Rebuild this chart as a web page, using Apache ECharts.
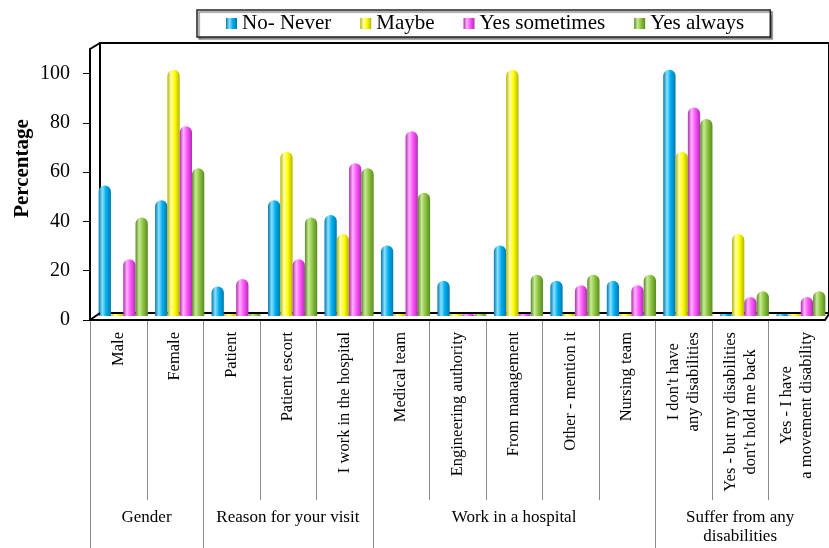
<!DOCTYPE html>
<html>
<head>
<meta charset="utf-8">
<script src="https://cdn.jsdelivr.net/npm/echarts@6/dist/echarts.min.js"></script>
<style>
  html, body { margin: 0; padding: 0; background: #fff; }
  #chart { width: 829px; height: 548px; }
</style>
</head>
<body>
<div id="chart"></div>
<script>
// Survey answers by respondent profile (percent of each answer).
const categories = [
  'Male', 'Female',
  'Patient', 'Patient escort', 'I work in the hospital',
  'Medical team', 'Engineering authority', 'From management', 'Other - mention it', 'Nursing team',
  "I don't have\nany disabilities", "Yes - but my disabilities\ndon't hold me back", 'Yes - I have\na movement disability'
];
const groupNames = ['Gender', 'Reason for your visit', 'Work in a hospital', 'Suffer from any\ndisabilities'];
const groupSizes = [2, 3, 5, 3];
const seriesNames = ['No- Never', 'Maybe', 'Yes sometimes', 'Yes always'];
const noNever      = [53, 47, 12, 47, 41, 28.6, 14.3, 28.6, 14.3, 14.3, 100, 0, 0];
const maybe        = [0, 100, 0, 66.7, 33.3, 0, 0, 100, 0, 0, 66.7, 33.3, 0];
const yesSometimes = [23, 77, 15, 23, 62, 75, 0, 0, 12.5, 12.5, 84.6, 7.7, 7.7];
const yesAlways    = [40, 60, 0, 40, 60, 50, 0, 16.7, 16.7, 16.7, 80, 10, 10];
const yTicks = [0, 20, 40, 60, 80, 100];

const serif = '"Liberation Serif", "Times New Roman", serif';

// horizontal shading that gives each bar a cylinder look
function cylinder(dark, light, base) {
  return new echarts.graphic.LinearGradient(0, 0, 1, 0, [
    { offset: 0, color: dark },
    { offset: 0.3, color: light },
    { offset: 0.6, color: base },
    { offset: 1, color: dark }
  ]);
}
const fills = [
  cylinder('#0079AD', '#8BE0FF', '#00AEEF'),
  cylinder('#B5B500', '#FFFFB0', '#FFFF00'),
  cylinder('#B02DB0', '#FFB3FF', '#FF55FF'),
  cylinder('#5A8A25', '#C8EA98', '#8DC63F')
];
const values = [noNever, maybe, yesSometimes, yesAlways];

const chart = echarts.init(document.getElementById('chart'), null, { renderer: 'canvas' });

chart.setOption({
  animation: false,
  backgroundColor: '#fff',
  legend: {
    left: 197, top: 10,
    padding: [3, 26, 3, 29],
    itemGap: 29,
    itemWidth: 11, itemHeight: 11,
    icon: 'rect',
    borderColor: '#222', borderWidth: 1.5,
    backgroundColor: '#fff',
    shadowColor: 'rgba(0,0,0,0.45)', shadowOffsetX: 2, shadowOffsetY: 2, shadowBlur: 1,
    textStyle: { fontFamily: serif, fontSize: 21, color: '#000' },
    data: seriesNames
  },
  grid: [
    // front axes
    { left: 90, right: 4, top: 49, bottom: 228 },
    // bars, set back slightly in depth
    { left: 95, right: 0, top: 45, bottom: 232 },
    // back wall
    { left: 100, right: -2, top: 43, bottom: 235, show: true, borderColor: '#000', borderWidth: 2, backgroundColor: 'transparent', z: 0 }
  ],
  xAxis: [
    {
      type: 'category', gridIndex: 0, data: categories,
      axisLine: { lineStyle: { color: '#000', width: 2 } },
      axisTick: { show: false },
      axisLabel: {
        interval: 0, rotate: 90, margin: 12, color: '#000',
        fontFamily: serif, fontSize: 16.5, lineHeight: 20,
        formatter: v => v.split('\n').map(s => '{c|' + s + '}').join('\n'),
        rich: { c: { align: 'center', fontFamily: serif, fontSize: 16.5, lineHeight: 20, color: '#000' } }
      }
    },
    { type: 'category', gridIndex: 1, data: categories, show: false },
    { type: 'value', gridIndex: 2, min: 0, max: 1, show: false }
  ],
  yAxis: [
    {
      type: 'value', gridIndex: 0, min: 0, max: 110, interval: 20,
      name: 'Percentage', nameLocation: 'middle', nameGap: 57, nameMoveOverlap: false,
      nameTextStyle: { fontFamily: serif, fontSize: 21, fontWeight: 'bold', color: '#000', padding: [0, 0, 0, 32] },
      axisLine: { show: true, lineStyle: { color: '#000', width: 2 } },
      axisTick: { show: true, inside: false, length: 7, customValues: yTicks, lineStyle: { color: '#000' } },
      axisLabel: { customValues: yTicks, margin: 20, color: '#000', fontFamily: serif, fontSize: 20 },
      splitLine: { show: false }
    },
    { type: 'value', gridIndex: 1, min: 0, max: 110, show: false },
    { type: 'value', gridIndex: 2, min: 0, max: 1, show: false }
  ],
  series: seriesNames.map((name, i) => ({
    name, type: 'bar', xAxisIndex: 1, yAxisIndex: 1,
    data: values[i],
    barWidth: 12.3, barGap: '0%', barMinHeight: 2,
    itemStyle: { color: fills[i], borderRadius: [6, 6, 0, 0] },
    z: 3
  }))
});

// Frame corners and the two-level category axis, placed through the axes.
const bw = chart.convertToPixel({ xAxisIndex: 0 }, categories[1]) - chart.convertToPixel({ xAxisIndex: 0 }, categories[0]);
const boundaryX = i => chart.convertToPixel({ xAxisIndex: 0 }, categories[Math.min(i, categories.length - 1)]) + (i < categories.length ? -bw / 2 : bw / 2);
const yBase = chart.convertToPixel({ yAxisIndex: 0 }, 0);
const yTop = chart.convertToPixel({ yAxisIndex: 0 }, 110);
const wallL = chart.convertToPixel({ xAxisIndex: 2 }, 0);
const wallT = chart.convertToPixel({ yAxisIndex: 2 }, 1);
const wallB = chart.convertToPixel({ yAxisIndex: 2 }, 0);
const frontR = boundaryX(categories.length);
const H = chart.getHeight();
const W = chart.getWidth();

const elements = [];
const edge = { stroke: '#000', lineWidth: 2 };
elements.push({ type: 'line', shape: { x1: boundaryX(0), y1: yTop, x2: wallL, y2: wallT }, style: edge, z: 5 });
elements.push({ type: 'line', shape: { x1: boundaryX(0), y1: yBase, x2: wallL, y2: wallB }, style: edge, z: 5 });
elements.push({ type: 'line', shape: { x1: frontR, y1: yBase, x2: W, y2: wallB + 1 }, style: edge, z: 5 });

const groupStarts = [];
let acc = 0;
groupSizes.forEach(n => { groupStarts.push(acc); acc += n; });

for (let i = 0; i < categories.length; i++) {
  const isGroup = groupStarts.indexOf(i) >= 0;
  const x = Math.round(boundaryX(i)) + 0.5;
  elements.push({
    type: 'line',
    shape: { x1: x, y1: yBase + 1, x2: x, y2: isGroup ? H : yBase + 180 },
    style: { stroke: '#8a8a8a', lineWidth: 1 }, z: 1
  });
}
groupNames.forEach((g, k) => {
  const a = groupStarts[k], b = a + groupSizes[k];
  elements.push({
    type: 'text',
    x: (boundaryX(a) + boundaryX(b)) / 2,
    y: yBase + 188,
    style: { text: g, textAlign: 'center', textVerticalAlign: 'top', fontFamily: serif, fontSize: 17, lineHeight: 19, fill: '#000' },
    z: 5
  });
});

chart.setOption({ graphic: elements });
</script>
</body>
</html>
